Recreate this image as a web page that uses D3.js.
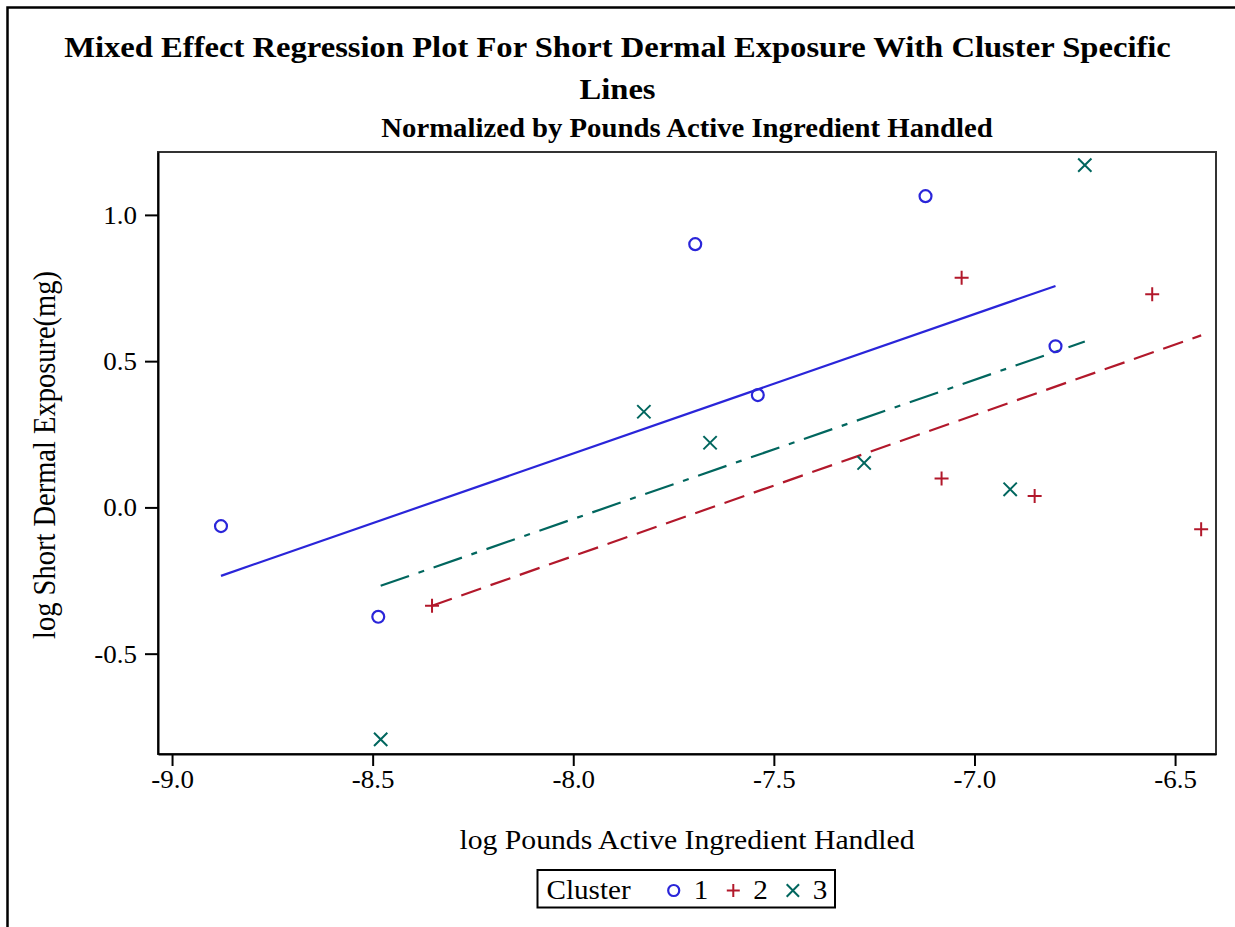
<!DOCTYPE html>
<html>
<head>
<meta charset="utf-8">
<script src="https://cdn.jsdelivr.net/npm/d3@7/dist/d3.min.js"></script>
<style>
  html, body { margin: 0; padding: 0; background: #fff; }
  svg { display: block; }
  text { font-family: "Liberation Serif", "Times New Roman", Times, serif; fill: #000; }
</style>
</head>
<body>
<svg id="chart" width="1235" height="927"></svg>
<script>
// ---------------- data ----------------
const titleLines = ["Mixed Effect Regression Plot For Short Dermal Exposure With Cluster Specific", "Lines"];
const subtitle = "Normalized by Pounds Active Ingredient Handled";
const xLabel = "log Pounds Active Ingredient Handled";
const yLabel = "log Short Dermal Exposure(mg)";
const legendTitle = "Cluster";

const clusters = ["1", "2", "3"];
const clusterColors = ["#2A25D9", "#B2182B", "#01665E"];
const clusterSymbols = ["circle", "plus", "cross"];
const clusterDash = ["none", "21,10", "30,10,6,10"];

const cluster1X = [-8.878, -8.486, -7.696, -7.540, -7.122, -6.798];
const cluster1Y = [-0.064, -0.374, 0.900, 0.384, 1.064, 0.551];
const cluster2X = [-8.352, -7.032, -7.082, -6.850, -6.557, -6.435];
const cluster2Y = [-0.336, 0.785, 0.099, 0.039, 0.729, -0.075];
const cluster3X = [-8.480, -7.824, -7.659, -7.275, -6.911, -6.725];
const cluster3Y = [-0.793, 0.327, 0.221, 0.152, 0.062, 1.170];

// cluster-specific fitted lines (predicted values at cluster min / max x)
const fit1X = [-8.878, -6.798];
const fit1Y = [-0.234, 0.757];
const fit2X = [-8.352, -6.435];
const fit2Y = [-0.336, 0.588];
const fit3X = [-8.480, -6.725];
const fit3Y = [-0.268, 0.567];

const xTicks = [-9.0, -8.5, -8.0, -7.5, -7.0, -6.5];
const yTicks = [-0.5, 0.0, 0.5, 1.0];
const xDomain = [-9.035, -6.398];
const yDomain = [-0.843, 1.215];

// ---------------- layout ----------------
const W = 1235, H = 927;
const plot = { left: 158, top: 152, right: 1216, bottom: 754 };
const SX = 1.08; // horizontal glyph stretch of the original rendering

const svg = d3.select("#chart");
svg.append("rect").attr("width", W).attr("height", H).attr("fill", "#fff");

// page border (top and left only, as in the reference crop)
svg.append("path")
  .attr("d", `M7.5,${H} L7.5,7.5 L${W},7.5`)
  .attr("fill", "none").attr("stroke", "#000").attr("stroke-width", 2.5);

const x = d3.scaleLinear().domain(xDomain).range([plot.left, plot.right]);
const y = d3.scaleLinear().domain(yDomain).range([plot.bottom, plot.top]);

function stretchedText(parent, tx, ty, str, size, weight, anchor) {
  return parent.append("text")
    .attr("transform", `translate(${tx},${ty}) scale(${SX},1)`)
    .attr("text-anchor", anchor || "middle")
    .style("font-size", size + "px")
    .style("font-weight", weight || "normal")
    .text(str);
}

// titles
stretchedText(svg, W / 2, 57, titleLines[0], 30.2, "bold");
stretchedText(svg, W / 2, 99, titleLines[1], 30.2, "bold");
stretchedText(svg, (plot.left + plot.right) / 2, 136.5, subtitle, 26.6, "bold");

// plot frame
svg.append("rect")
  .attr("x", plot.left).attr("y", plot.top)
  .attr("width", plot.right - plot.left).attr("height", plot.bottom - plot.top)
  .attr("fill", "none").attr("stroke", "#333").attr("stroke-width", 2);

const fmt = v => v.toFixed(1);

// axes
const xAxis = d3.axisBottom(x).tickValues(xTicks).tickFormat(fmt).tickSize(12).tickPadding(6).tickSizeOuter(0);
const gx = svg.append("g").attr("transform", `translate(0,${plot.bottom})`).call(xAxis);
const yAxis = d3.axisLeft(y).tickValues(yTicks).tickFormat(fmt).tickSize(13).tickPadding(8).tickSizeOuter(0);
const gy = svg.append("g").attr("transform", `translate(${plot.left},0)`).call(yAxis);

[gx, gy].forEach(g => {
  g.attr("font-family", null).attr("font-size", null);
  g.select(".domain").attr("stroke", "#000").attr("stroke-width", 2);
  g.selectAll(".tick line").attr("stroke", "#000").attr("stroke-width", 2);
  g.selectAll(".tick text").style("font-size", "25px").attr("fill", "#000");
});
gx.selectAll(".tick text").attr("dy", null).attr("y", 34).attr("x", 0).attr("transform", `scale(${SX},1)`);
gy.selectAll(".tick text").attr("x", -21 / SX).attr("dy", "0.34em").attr("transform", `scale(${SX},1)`);

// axis labels
stretchedText(svg, (plot.left + plot.right) / 2, 849, xLabel, 27.5);
svg.append("text")
  .attr("transform", `translate(55,${(plot.top + plot.bottom) / 2 + 2}) rotate(-90) scale(1,${SX})`)
  .attr("text-anchor", "middle")
  .style("font-size", "28.5px")
  .text(yLabel);

// symbols
function drawSymbol(g, type, cx, cy, color, s) {
  if (type === "circle") {
    g.append("circle").attr("cx", cx).attr("cy", cy).attr("r", s * 0.85)
      .attr("fill", "none").attr("stroke", color).attr("stroke-width", 2.2);
  } else if (type === "plus") {
    g.append("path").attr("d", `M${cx - s},${cy} L${cx + s},${cy} M${cx},${cy - s} L${cx},${cy + s}`)
      .attr("stroke", color).attr("stroke-width", 2).attr("fill", "none");
  } else {
    const d = s * 0.95;
    g.append("path").attr("d", `M${cx - d},${cy - d} L${cx + d},${cy + d} M${cx - d},${cy + d} L${cx + d},${cy - d}`)
      .attr("stroke", color).attr("stroke-width", 2).attr("fill", "none");
  }
}

const pointSets = [
  { xs: cluster1X, ys: cluster1Y, fx: fit1X, fy: fit1Y },
  { xs: cluster2X, ys: cluster2Y, fx: fit2X, fy: fit2Y },
  { xs: cluster3X, ys: cluster3Y, fx: fit3X, fy: fit3Y }
];

const lineGen = d3.line().x(d => x(d[0])).y(d => y(d[1]));
const plotG = svg.append("g");

// fit lines
pointSets.forEach((set, i) => {
  const pts = set.fx.map((v, k) => [v, set.fy[k]]);
  plotG.append("path").datum(pts)
    .attr("d", lineGen)
    .attr("fill", "none")
    .attr("stroke", clusterColors[i])
    .attr("stroke-width", 2.2)
    .attr("stroke-dasharray", clusterDash[i]);
});

// points
pointSets.forEach((set, i) => {
  set.xs.forEach((v, k) => {
    drawSymbol(plotG, clusterSymbols[i], x(v), y(set.ys[k]), clusterColors[i], 7);
  });
});

// legend
const legend = svg.append("g");
const legBox = { x: 537.5, y: 870, w: 297.5, h: 37.5 };
legend.append("rect")
  .attr("x", legBox.x).attr("y", legBox.y).attr("width", legBox.w).attr("height", legBox.h)
  .attr("fill", "#fff").attr("stroke", "#000").attr("stroke-width", 2);
const legBase = 899;
const lt = stretchedText(legend, legBox.x + 9, legBase, legendTitle, 27, "normal", "start");
let cursor = legBox.x + 9 + lt.node().getComputedTextLength() * SX + 43;
const legMid = 890.5;
clusters.forEach((c, i) => {
  drawSymbol(legend, clusterSymbols[i], cursor, legMid, clusterColors[i], 6.5);
  const t = stretchedText(legend, cursor + 20, legBase, c, 27, "normal", "start");
  cursor += 20 + t.node().getComputedTextLength() * SX + 25;
});
</script>
</body>
</html>
